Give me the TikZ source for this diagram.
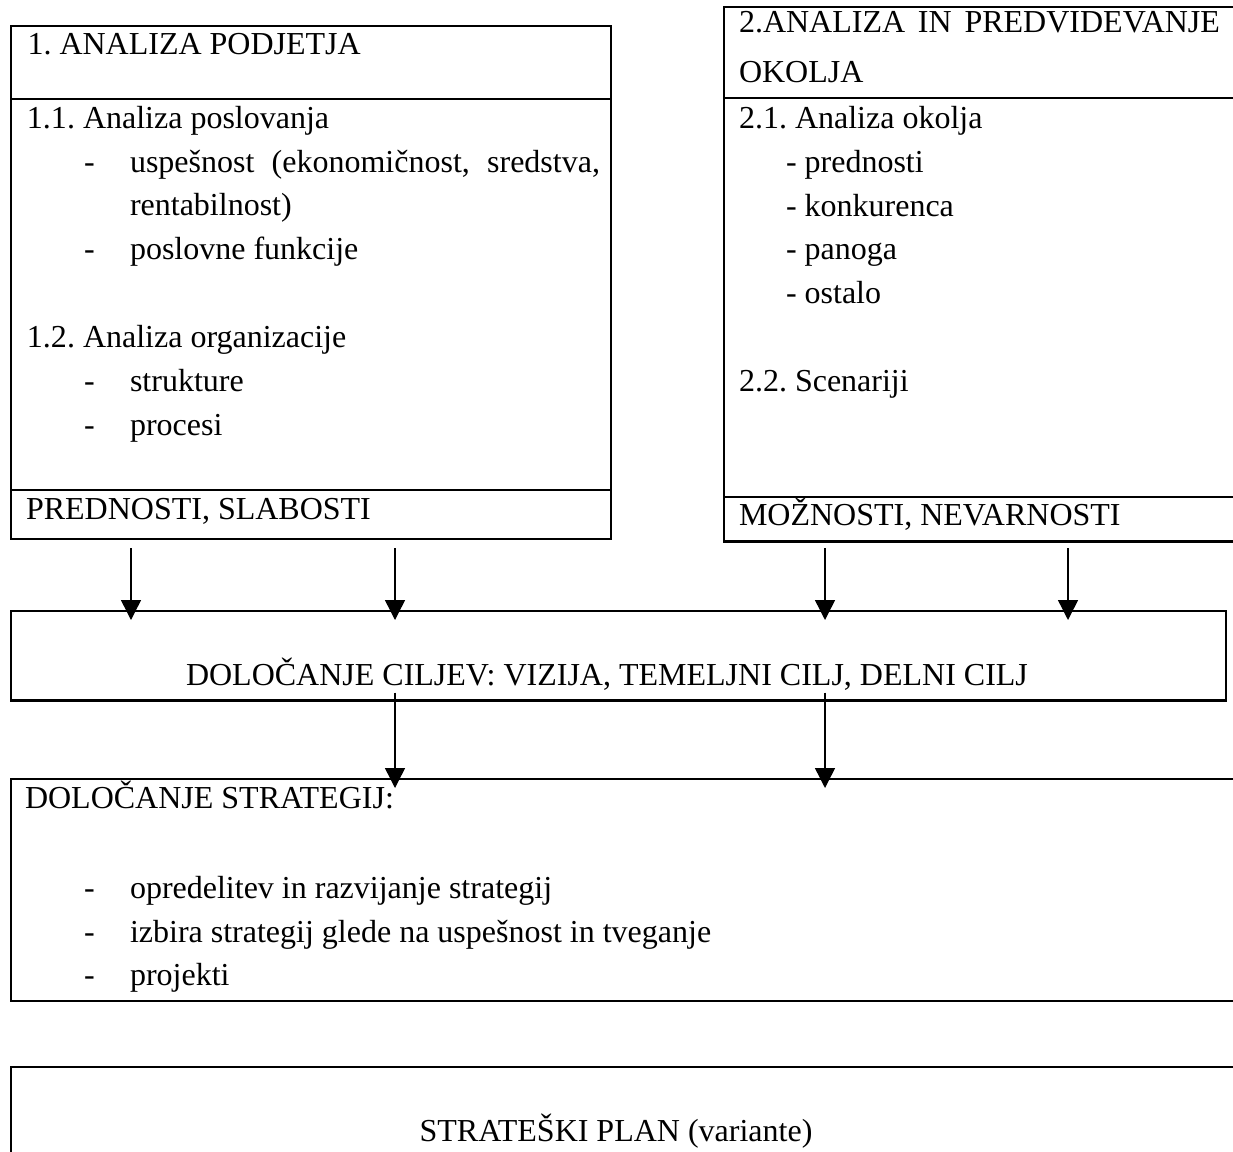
\documentclass[tikz,border=0pt]{standalone}
\usepackage{fontspec}
\setmainfont{Liberation Serif}
\usetikzlibrary{arrows.meta,calc}
\frenchspacing

\begin{document}
\begin{tikzpicture}[x=1pt,y=-1pt,
  frame/.style={draw=black, line width=2.2pt, rectangle, anchor=north west,
                inner sep=0pt, outer sep=0pt},
  txt/.style={anchor=base west, inner sep=0pt, outer sep=0pt,
              font=\fontsize{32}{44}\selectfont},
  ctxt/.style={anchor=base, inner sep=0pt, outer sep=0pt,
              font=\fontsize{32}{44}\selectfont},
  rule/.style={line width=2.2pt},
  arr/.style={line width=1.4pt, -{Triangle[width=20pt,length=20pt]}}]

\clip (0,0) rectangle (1233,1151);
\fill[white] (0,0) rectangle (1233,1151);

% --- box 1: analiza podjetja ---
\node[frame, minimum width=600pt, minimum height=513.6pt] (b1) at (11,25.7) {};
\draw[rule] (b1.west |- 0,99) -- (b1.east |- 0,99);
\draw[rule] (b1.west |- 0,490) -- (b1.east |- 0,490);
\node[txt] (t1)  at (27.5,54)  {1. ANALIZA PODJETJA};
\node[txt] (t11) at (27,128)   {1.1. Analiza poslovanja};
\node[txt] (d1)  at (84,172)   {-};
\node[txt] (i1)  at (130,172)  {\makebox[470pt][s]{uspešnost (ekonomičnost, sredstva,}};
\node[txt] (i1b) at (130,215)  {rentabilnost)};
\node[txt] (d2)  at (84,259)   {-};
\node[txt] (i2)  at (130,259)  {poslovne funkcije};
\node[txt] (t12) at (27,347)   {1.2. Analiza organizacije};
\node[txt] (d3)  at (84,391)   {-};
\node[txt] (i3)  at (130,391)  {strukture};
\node[txt] (d4)  at (84,435)   {-};
\node[txt] (i4)  at (130,435)  {procesi};
\node[txt] (t1b) at (26,519)   {PREDNOSTI, SLABOSTI};

% --- box 2: analiza in predvidevanje okolja ---
\node[frame, minimum width=540pt, minimum height=534.5pt] (b2) at (724,7) {};
\draw[rule] (b2.west |- 0,97.7) -- (b2.east |- 0,97.7);
\draw[rule] (b2.west |- 0,496.7) -- (b2.east |- 0,496.7);
\node[txt] (t2)  at (739,32)   {\makebox[481pt][s]{2.ANALIZA IN PREDVIDEVANJE}};
\node[txt] (t2b) at (739,82)   {OKOLJA};
\node[txt] (t21) at (739,128)  {2.1. Analiza okolja};
\node[txt] (e1)  at (786,172)  {- prednosti};
\node[txt] (e2)  at (786,216)  {- konkurenca};
\node[txt] (e3)  at (786,259)  {- panoga};
\node[txt] (e4)  at (786,303)  {- ostalo};
\node[txt] (t22) at (739,391)  {2.2. Scenariji};
\node[txt] (t2c) at (739,525)  {MOŽNOSTI, NEVARNOSTI};

% --- box 3: cilji ---
\node[frame, minimum width=1215pt, minimum height=89.5pt] (b3) at (11,611) {};
\node[txt] (t3) at (186,685) {DOLOČANJE CILJEV: VIZIJA, TEMELJNI CILJ, DELNI CILJ};

% --- box 4: strategije ---
\node[frame, minimum width=1240pt, minimum height=221.7pt] (b4) at (11,779) {};
\node[txt] (t4)  at (25,808)  {DOLOČANJE STRATEGIJ:};
\node[txt] (f1d) at (84,898)  {-};
\node[txt] (f1)  at (130,898) {opredelitev in razvijanje strategij};
\node[txt] (f2d) at (84,942)  {-};
\node[txt] (f2)  at (130,942) {izbira strategij glede na uspešnost in tveganje};
\node[txt] (f3d) at (84,985)  {-};
\node[txt] (f3)  at (130,985) {projekti};

% --- box 5: strateški plan ---
\node[frame, minimum width=1240pt, minimum height=120pt] (b5) at (11,1066.7) {};
\node[ctxt] (t5) at (616,1141) {STRATEŠKI PLAN (variante)};

% --- connectors ---
\draw[arr] ($(b1.south -| 131,0)+(0,9)$) -- ($(b3.north -| 131,0)+(0,9)$);
\draw[arr] ($(b1.south -| 395,0)+(0,9)$) -- ($(b3.north -| 395,0)+(0,9)$);
\draw[arr] ($(b2.south -| 825,0)+(0,6.5)$) -- ($(b3.north -| 825,0)+(0,9)$);
\draw[arr] ($(b2.south -| 1068,0)+(0,6.5)$) -- ($(b3.north -| 1068,0)+(0,9)$);
\draw[arr] ($(b3.south -| 395,0)+(0,-8)$) -- ($(b4.north -| 395,0)+(0,9)$);
\draw[arr] ($(b3.south -| 825,0)+(0,-8)$) -- ($(b4.north -| 825,0)+(0,9)$);
\end{tikzpicture}
\end{document}
